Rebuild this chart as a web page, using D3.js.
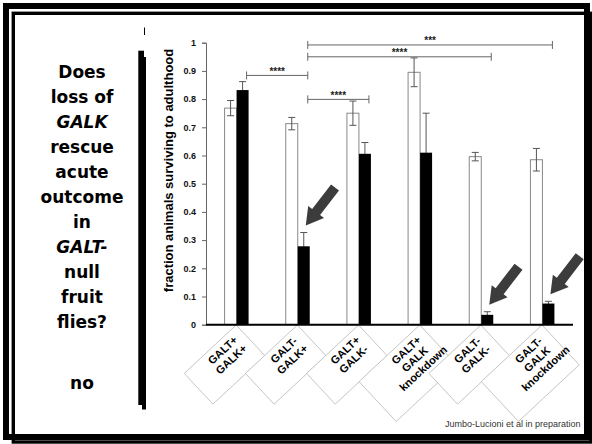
<!DOCTYPE html>
<html><head><meta charset="utf-8">
<script src="https://cdn.jsdelivr.net/npm/d3@7"></script>
<style>body{margin:0;background:#fff}svg{display:block}</style>
</head><body>
<svg id="chart" width="592" height="444"></svg>
<script>
// genotype groups, one label line per entry
var categories = [
    ["GALT+", "GALK+"],
    ["GALT-", "GALK+"],
    ["GALT+", "GALK-"],
    ["GALT+", "GALK", "knockdown"],
    ["GALT-", "GALK-"],
    ["GALT-", "GALK", "knockdown"]
];
var whiteValues = [0.768, 0.713, 0.750, 0.895, 0.596, 0.585];
var whiteErrors = [0.027, 0.022, 0.043, 0.051, 0.015, 0.040];
var blackValues = [0.832, 0.278, 0.606, 0.610, 0.035, 0.075];
var blackErrors = [0.030, 0.049, 0.040, 0.140, 0.011, 0.008];
var yTicks = [0, 0.1, 0.2, 0.3, 0.4, 0.5, 0.6, 0.7, 0.8, 0.9, 1];

// significance brackets (group indexes)
var compFrom = [0, 1, 1, 1];
var compTo = [1, 2, 4, 5];
var compLevel = [0.884, 0.799, 0.950, 0.992];
var compLabels = ["****", "****", "****", "***"];

var arrowGroups = [1, 4, 5];

var questionLines = ["Does", "loss of", "GALK", "rescue", "acute", "outcome", "in", "GALT-", "null", "fruit", "flies?"];
var answerText = "no";
var yLabel = "fraction animals surviving to adulthood";
var citation = "Jumbo-Lucioni et al in preparation";

var svg = d3.select("#chart");

// frame
svg.append("rect").attr("x", 6).attr("y", 6).attr("width", 581).attr("height", 431)
    .attr("fill", "none").attr("stroke", "#000").attr("stroke-width", 6);
svg.append("rect").attr("x", 13.3).attr("y", 13.3).attr("width", 577.7).attr("height", 428.7)
    .attr("fill", "none").attr("stroke", "#000").attr("stroke-width", 3.4);

// left question panel
var q = svg.append("g").attr("font-family", "DejaVu Sans, sans-serif")
    .attr("font-weight", "bold").attr("font-size", 17).attr("text-anchor", "middle");
questionLines.forEach(function(t, i) {
    q.append("text").attr("x", 82).attr("y", 78 + i * 25)
        .attr("font-style", (t == "GALK" || t == "GALT-") ? "italic" : null)
        .text(t);
});
q.append("text").attr("x", 82).attr("y", 389).text(answerText);

svg.append("rect").attr("x", 138.3).attr("y", 50.7).attr("width", 5.7).attr("height", 354.3).attr("fill", "#000");
svg.append("rect").attr("x", 142).attr("y", 57).attr("width", 4).attr("height", 352.5).attr("fill", "#000");
svg.append("line").attr("x1", 144.5).attr("x2", 144.5).attr("y1", 27.5).attr("y2", 35).attr("stroke", "#000").attr("stroke-width", 1);

// scales
var x = d3.scaleBand().domain(d3.range(categories.length)).range([206, 573]);
var x1 = d3.scaleBand().domain(["w", "b"]).range([x.bandwidth() / 2 - 12, x.bandwidth() / 2 + 12]);
var y = d3.scaleLinear().domain([0, 1]).range([324.7, 42.7]);
var bw = x1.bandwidth();

function blackCenter(i) { return x(i) + x1("b") + bw / 2; }
function whiteCenter(i) { return x(i) + x1("w") + bw / 2; }

// category label boxes, tilted
categories.forEach(function(lines, i) {
    var extra = lines.length - 2;
    var g = svg.append("g")
        .attr("transform", "translate(" + (x(i) + x.bandwidth() / 2 - 14) + ",350) rotate(-43)");
    g.append("rect").attr("x", -44 - extra * 12).attr("y", -9)
        .attr("width", 71 + extra * 12)
        .attr("height", lines.length * 12.5 + 17)
        .attr("fill", "#fff").attr("stroke", "#bbb").attr("stroke-width", 0.8);
    lines.forEach(function(t, j) {
        g.append("text").attr("x", 0).attr("y", j * 12.5 + 4)
            .attr("text-anchor", "middle")
            .attr("font-family", "Liberation Sans, Arial, sans-serif")
            .attr("font-weight", "bold").attr("font-size", 11)
            .text(t);
    });
});

// black error bars go under the black bars
function errBar(cx, v, e) {
    var g = svg.append("g").attr("stroke", "#555").attr("stroke-width", 1);
    g.append("line").attr("x1", cx).attr("x2", cx).attr("y1", y(v - e)).attr("y2", y(v + e));
    g.append("line").attr("x1", cx - 3.5).attr("x2", cx + 3.5).attr("y1", y(v + e)).attr("y2", y(v + e));
    g.append("line").attr("x1", cx - 3.5).attr("x2", cx + 3.5).attr("y1", y(v - e)).attr("y2", y(v - e));
}
blackValues.forEach(function(v, i) { errBar(blackCenter(i), v, blackErrors[i]); });

svg.append("g").selectAll("rect").data(whiteValues).join("rect")
    .attr("x", function(d, i) { return x(i) + x1("w"); })
    .attr("y", function(d) { return y(d); })
    .attr("width", bw)
    .attr("height", function(d) { return y(0) - y(d); })
    .attr("fill", "#fff").attr("stroke", "#888").attr("stroke-width", 1);

svg.append("g").selectAll("rect").data(blackValues).join("rect")
    .attr("x", function(d, i) { return x(i) + x1("b"); })
    .attr("y", function(d) { return y(d); })
    .attr("width", bw)
    .attr("height", function(d) { return y(0) - y(d); })
    .attr("fill", "#000");

whiteValues.forEach(function(v, i) { errBar(whiteCenter(i), v, whiteErrors[i]); });

// axes
var yAxis = svg.append("g").attr("transform", "translate(206,0)")
    .call(d3.axisLeft(y).tickValues(yTicks).tickSize(4).tickPadding(6)
        .tickFormat(function(d) { return d3.format("")(+d.toFixed(1)); }));
yAxis.select(".domain").attr("stroke", "#666");
yAxis.selectAll(".tick line").attr("stroke", "#666");
yAxis.selectAll("text").attr("font-family", "Liberation Sans, Arial, sans-serif")
    .attr("font-weight", "bold").attr("font-size", 9).attr("fill", "#111");

svg.append("line").attr("x1", 206).attr("x2", 573).attr("y1", y(0)).attr("y2", y(0))
    .attr("stroke", "#000").attr("stroke-width", 2);

svg.append("text")
    .attr("transform", "translate(173,170.5) rotate(-90)")
    .attr("text-anchor", "middle")
    .attr("font-family", "Liberation Sans, Arial, sans-serif")
    .attr("font-weight", "bold").attr("font-size", 13)
    .text(yLabel);

// significance brackets
compFrom.forEach(function(a, k) {
    var x0 = blackCenter(a) + 4, x2 = blackCenter(compTo[k]) + 4, yy = y(compLevel[k]);
    var g = svg.append("g").attr("stroke", "#666").attr("stroke-width", 1);
    g.append("line").attr("x1", x0).attr("x2", x2).attr("y1", yy).attr("y2", yy);
    g.append("line").attr("x1", x0).attr("x2", x0).attr("y1", yy - 4).attr("y2", yy + 4);
    g.append("line").attr("x1", x2).attr("x2", x2).attr("y1", yy - 4).attr("y2", yy + 4);
    svg.append("text").attr("x", (x0 + x2) / 2).attr("y", yy - 0.5)
        .attr("text-anchor", "middle")
        .attr("font-family", "Liberation Sans, Arial, sans-serif")
        .attr("font-weight", "bold").attr("font-size", 10).attr("fill", "#222")
        .text(compLabels[k]);
});

// arrows pointing at the low black bars
arrowGroups.forEach(function(i) {
    var tipX = blackCenter(i) + 2,
        tipY = y(blackValues[i] + blackErrors[i]) - 7;
    var pts = [[0, 0], [-17, -10], [-17, -5], [-48, -5], [-48, 5], [-17, 5], [-17, 10]];
    svg.append("polygon")
        .attr("points", pts.map(function(p) { return p.join(","); }).join(" "))
        .attr("transform", "translate(" + tipX + "," + tipY + ") rotate(127.6)")
        .attr("fill", "#3c3c3c");
});

svg.append("text").attr("x", 580.5).attr("y", 427).attr("text-anchor", "end")
    .attr("font-family", "Liberation Sans, Arial, sans-serif")
    .attr("font-size", 9).attr("fill", "#333")
    .text(citation);
</script>
</body></html>
